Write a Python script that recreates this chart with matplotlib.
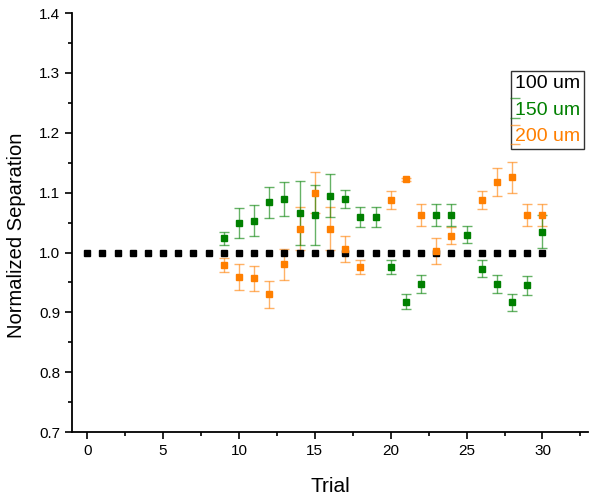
import numpy as np
import matplotlib

matplotlib.use("Agg")
import matplotlib.pyplot as plt
from matplotlib.ticker import MultipleLocator

plt.rcParams["font.family"] = ["Liberation Sans", "DejaVu Sans"]

# 100 um reference: flat at 1.0 for every trial
trial_100 = list(range(0, 31))
sep_100 = [1.0] * 31

trial_150 = [9, 10, 11, 12, 13, 14, 15, 16, 17, 18, 19, 20, 21, 22, 23, 24, 25, 26, 27, 28, 29, 30]
sep_150 = [1.024, 1.050, 1.053, 1.084, 1.089, 1.066, 1.062, 1.095, 1.089, 1.059, 1.059,
           0.976, 0.918, 0.948, 1.063, 1.063, 1.030, 0.973, 0.948, 0.917, 0.945, 1.035]
err_150 = [0.011, 0.025, 0.026, 0.026, 0.028, 0.053, 0.050, 0.036, 0.015, 0.017, 0.017,
           0.012, 0.013, 0.015, 0.018, 0.018, 0.014, 0.014, 0.015, 0.014, 0.016, 0.028]

trial_200 = [9, 10, 11, 12, 13, 14, 15, 16, 17, 18, 20, 21, 22, 23, 24, 26, 27, 28, 29, 30]
sep_200 = [0.979, 0.959, 0.957, 0.930, 0.980, 1.040, 1.100, 1.040, 1.006, 0.976,
           1.087, 1.122, 1.063, 1.003, 1.028, 1.087, 1.118, 1.126, 1.063, 1.063]
err_200 = [0.011, 0.021, 0.021, 0.022, 0.026, 0.036, 0.034, 0.036, 0.022, 0.012,
           0.015, 0.003, 0.018, 0.022, 0.014, 0.015, 0.024, 0.026, 0.018, 0.018]

green = "#008000"
orange = "#ff7f00"

fig = plt.figure(figsize=(6.0, 5.03), dpi=100)
ax = fig.add_axes([0.12, 0.141, 0.86, 0.833])

ax.errorbar(trial_200, sep_200, yerr=err_200, fmt="s", color=orange, ms=4,
            ecolor=orange, elinewidth=1, capsize=3.5, capthick=1,
            label="200 um")
ax.errorbar(trial_150, sep_150, yerr=err_150, fmt="s", color=green, ms=4,
            ecolor=green, elinewidth=1, capsize=3.5, capthick=1,
            label="150 um")
ax.plot(trial_100, sep_100, "s", color="black", ms=4, label="100 um")

# make the error bar lines a bit lighter, like the original
for c in ax.containers:
    for coll in c[2]:
        coll.set_alpha(0.6)
    for cap in c[1]:
        cap.set_alpha(0.6)

ax.set_xlim(-1, 33)
ax.set_ylim(0.7, 1.4)
ax.xaxis.set_major_locator(MultipleLocator(5))
ax.xaxis.set_minor_locator(MultipleLocator(2.5))
ax.yaxis.set_major_locator(MultipleLocator(0.1))
ax.yaxis.set_minor_locator(MultipleLocator(0.05))
ax.yaxis.set_major_formatter(matplotlib.ticker.FormatStrFormatter("%.1f"))

for side in ["top", "right"]:
    ax.spines[side].set_visible(False)
for side in ["left", "bottom"]:
    ax.spines[side].set_linewidth(1.3)
ax.tick_params(which="major", direction="out", length=5, width=1.2, labelsize=11)
ax.tick_params(which="minor", direction="out", length=3, width=1.2)

ax.set_xlabel("Trial", fontsize=15, labelpad=14)
ax.set_ylabel("Normalized Separation", fontsize=14.5)
ax.yaxis.set_label_coords(-0.09, 0.47)

handles, labels = ax.get_legend_handles_labels()
order = [labels.index("100 um"), labels.index("150 um"), labels.index("200 um")]
leg = ax.legend([handles[i] for i in order], [labels[i] for i in order],
                loc="upper right", bbox_to_anchor=(0.973, 0.859),
                bbox_transform=fig.transFigure, borderaxespad=0, fontsize=14,
                frameon=True, fancybox=False, handlelength=0, handletextpad=0,
                borderpad=0.2, labelspacing=0.45, markerscale=0)
leg.get_frame().set_edgecolor("black")
leg.get_frame().set_linewidth(1.0)
for text, col in zip(leg.get_texts(), ["black", green, orange]):
    text.set_color(col)
for h in leg.legend_handles:
    h.set_visible(False)

plt.savefig("out.png", dpi=100)
plt.close()
